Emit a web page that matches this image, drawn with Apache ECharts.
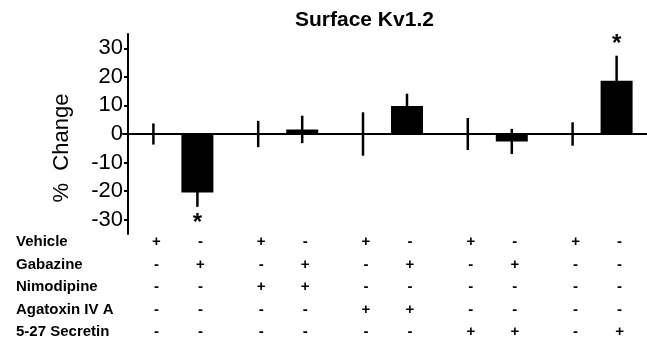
<!DOCTYPE html>
<html lang="en">
<head>
    <meta charset="UTF-8" />
    <title>Surface Kv1.2</title>
    <script src="https://cdn.jsdelivr.net/npm/echarts@6/dist/echarts.min.js"></script>
</head>
<body style="margin: 0; background: #fff">
    <div id="main" style="width: 647px; height: 344px"></div>
    <script>
        // data
        const groups = ["g1", "g2", "g3", "g4", "g5"];
        const vehicleMean = [0, 0, 0, 0, 0];
        const vehicleErr = [3.7, 4.6, 7.6, 5.6, 4.1];
        const treatMean = [-20.5, 1.6, 9.8, -2.6, 18.6];
        const treatErr = [5.0, 4.8, 4.3, 4.4, 8.8];
        const starred = [1, 0, 0, 0, 1];
        const yTicks = [-30, -20, -10, 0, 10, 20, 30];

        const rowLabels = ["Vehicle", "Gabazine", "Nimodipine", "Agatoxin IV A", "5-27 Secretin"];
        const signs = [
            ["+", "-", "+", "-", "+", "-", "+", "-", "+", "-"],
            ["-", "+", "-", "+", "-", "+", "-", "+", "-", "-"],
            ["-", "-", "+", "+", "-", "-", "-", "-", "-", "-"],
            ["-", "-", "-", "-", "+", "+", "-", "-", "-", "-"],
            ["-", "-", "-", "-", "-", "-", "+", "+", "-", "+"],
        ];

        const FONT = '"Liberation Sans", Arial, sans-serif';
        const barW = 32;
        const gapPx = 12;
        const half = (barW + gapPx) / 2; // bar centre offset from group centre
        const tableTop = 242;
        const rowStep = 22.5;

        const errData = [];
        groups.forEach((g, i) => {
            errData.push([i, 0, vehicleMean[i], vehicleErr[i], 0]);
            errData.push([i, 1, treatMean[i], treatErr[i], starred[i]]);
        });

        const chart = echarts.init(document.getElementById("main"));

        const option = {
            animation: false,
            title: {
                text: "Surface Kv1.2",
                left: 295,
                top: 10,
                padding: 0,
                textStyle: { fontFamily: FONT, fontSize: 21, fontWeight: "bold", color: "#000" },
            },
            grid: { left: 123, right: 0, top: 34, height: 200 },
            xAxis: {
                type: "category",
                data: groups,
                axisLine: { onZero: true, lineStyle: { color: "#000", width: 2 } },
                axisTick: { show: false },
                axisLabel: { show: false },
            },
            yAxis: {
                type: "value",
                min: -35,
                max: 35,
                offset: -5,
                splitLine: { show: false },
                axisLine: { show: true, lineStyle: { color: "#000", width: 2 } },
                axisTick: { show: true, length: 4, customValues: yTicks, lineStyle: { color: "#000", width: 2 } },
                axisLabel: {
                    customValues: yTicks,
                    margin: 5,
                    fontFamily: FONT,
                    fontSize: 22,
                    color: "#000",
                },
            },
            graphic: [
                {
                    type: "text",
                    x: 62,
                    y: 148,
                    rotation: Math.PI / 2,
                    style: {
                        text: "%  Change",
                        font: "22px " + FONT,
                        fill: "#000",
                        align: "center",
                        verticalAlign: "middle",
                    },
                },
            ].concat(
                rowLabels.map((t, r) => ({
                    type: "text",
                    x: 16,
                    y: tableTop + r * rowStep,
                    style: {
                        text: t,
                        font: "bold 15px " + FONT,
                        fill: "#000",
                        align: "left",
                        verticalAlign: "middle",
                    },
                }))
            ),
            series: [
                {
                    name: "vehicle",
                    type: "bar",
                    data: vehicleMean,
                    barWidth: barW,
                    barGap: (gapPx / barW) * 100 + "%",
                    itemStyle: { color: "#000" },
                },
                {
                    name: "treatment",
                    type: "bar",
                    data: treatMean,
                    barWidth: barW,
                    itemStyle: { color: "#000" },
                },
                {
                    // error bars and asterisks
                    type: "custom",
                    data: errData,
                    encode: { x: 0, y: 2 },
                    z: 5,
                    clip: false,
                    renderItem: function (params, api) {
                        const g = api.value(0);
                        const slot = api.value(1);
                        const m = api.value(2);
                        const e = api.value(3);
                        const star = api.value(4);
                        const hi = api.coord([g, m + e]);
                        const lo = api.coord([g, m - e]);
                        const x = hi[0] + (slot === 0 ? -half : half);
                        const children = [
                            {
                                type: "line",
                                shape: { x1: x, y1: hi[1], x2: x, y2: lo[1] },
                                style: { stroke: "#000", lineWidth: 2.5 },
                            },
                        ];
                        if (star) {
                            children.push({
                                type: "text",
                                x: x,
                                y: m > 0 ? hi[1] - 11 : lo[1] + 17,
                                style: {
                                    text: "*",
                                    font: "bold 24px " + FONT,
                                    fill: "#000",
                                    align: "center",
                                    verticalAlign: "middle",
                                },
                            });
                        }
                        return { type: "group", children: children };
                    },
                },
                {
                    // +/- treatment table under the plot
                    type: "custom",
                    data: groups.map((g, i) => [i, 0]),
                    encode: { x: 0, y: 1 },
                    clip: false,
                    silent: true,
                    renderItem: function (params, api) {
                        const g = api.value(0);
                        const cx = api.coord([g, 0])[0];
                        const children = [];
                        signs.forEach((row, r) => {
                            [0, 1].forEach((c) => {
                                children.push({
                                    type: "text",
                                    x: cx + (c === 0 ? -half : half) + 3,
                                    y: tableTop + r * rowStep,
                                    style: {
                                        text: row[g * 2 + c],
                                        font: "bold 15px " + FONT,
                                        fill: "#000",
                                        align: "center",
                                        verticalAlign: "middle",
                                    },
                                });
                            });
                        });
                        return { type: "group", children: children };
                    },
                },
            ],
        };

        chart.setOption(option);
    </script>
</body>
</html>
